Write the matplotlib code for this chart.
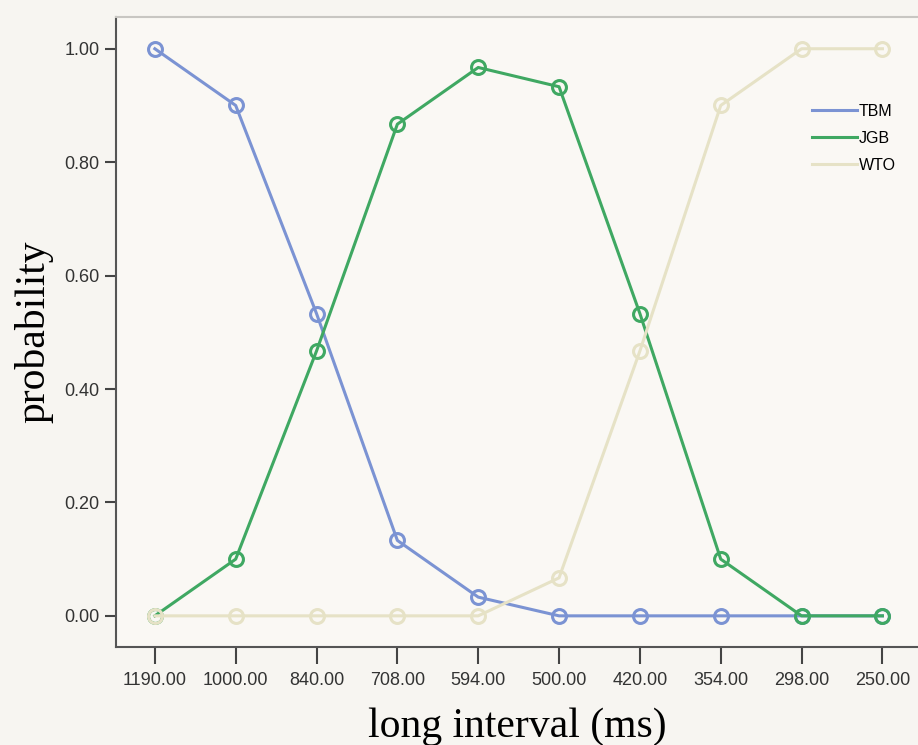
import matplotlib
matplotlib.use('Agg')
import matplotlib.pyplot as plt
import numpy as np

# interval categories (ms), shown as ordinal positions
intervals = ['1190.00', '1000.00', '840.00', '708.00', '594.00',
             '500.00', '420.00', '354.00', '298.00', '250.00']
tbm = [1.00, 0.90, 0.533, 0.133, 0.033, 0.0, 0.0, 0.0, 0.0, 0.0]
jgb = [0.0, 0.10, 0.467, 0.867, 0.967, 0.933, 0.533, 0.10, 0.0, 0.0]
wto = [0.0, 0.0, 0.0, 0.0, 0.0, 0.067, 0.467, 0.90, 1.00, 1.00]
yticks = [0.0, 0.2, 0.4, 0.6, 0.8, 1.0]

series = [('TBM', tbm, '#7b93d3'),
          ('JGB', jgb, '#3fa862'),
          ('WTO', wto, '#e6e2c6')]

plt.rcParams['font.family'] = ['Liberation Sans', 'DejaVu Sans']

fig = plt.figure(figsize=(9.18, 7.45), dpi=100, facecolor='#f7f5f1')
ax = fig.add_axes([0.1264, 0.1315, 0.8736, 0.8457])
ax.set_facecolor('#faf8f4')

x = np.arange(len(intervals))
for name, vals, col in series:
    ax.plot(x, vals, color=col, lw=2.2, label=name,
            marker='o', ms=10, mfc='none', mec=col, mew=2.2)

ax.set_xlim(-0.48, 9.44)
ax.set_ylim(-0.055, 1.056)
ax.set_xticks(x)
ax.set_xticklabels(intervals)
ax.set_yticks(yticks)
ax.set_yticklabels(['%.2f' % v for v in yticks])
ax.tick_params(axis='x', length=12, width=1.5, color='#444', labelsize=13, pad=6, labelcolor='#333')
ax.tick_params(axis='y', length=8, width=1.5, color='#444', labelsize=13, pad=4, labelcolor='#333')

for s in ['left', 'bottom']:
    ax.spines[s].set_color('#555')
    ax.spines[s].set_linewidth(1.5)
ax.spines['top'].set_color('#c8c6c2')
ax.spines['top'].set_linewidth(1.5)
ax.spines['right'].set_visible(False)

ax.set_ylabel('probability', family='Liberation Serif', fontsize=30, labelpad=8)
ax.set_xlabel('long interval (ms)', family='Liberation Serif', fontsize=30, labelpad=13)

leg = ax.legend(loc='upper right', bbox_to_anchor=(0.99, 0.885), frameon=False,
                fontsize=11.5, handlelength=2.8, handletextpad=0.1, labelspacing=0.75)
for h in leg.get_lines():
    h.set_marker('')

fig.savefig('out.png', dpi=100, facecolor=fig.get_facecolor())
